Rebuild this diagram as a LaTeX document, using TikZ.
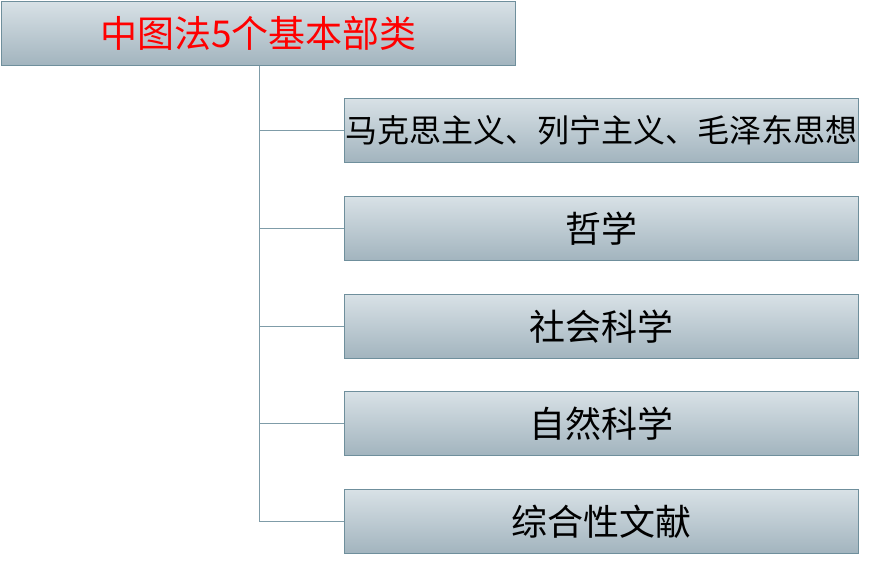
\documentclass[tikz,border=0pt]{standalone}
\usepackage{fontspec}
\newfontfamily\cjk{Noto Sans CJK SC}
\definecolor{boxtop}{HTML}{D8E1E6}
\definecolor{boxbot}{HTML}{A2B4BE}
\definecolor{boxline}{HTML}{6F8F9C}
\definecolor{conn}{HTML}{7F9CA8}
\tikzset{
  catbox/.style={draw=boxline, line width=0.9pt, top color=boxtop, bottom color=boxbot,
    minimum width=514pt, minimum height=64pt, inner sep=0pt, text=black,
    font=\cjk\fontsize{36}{40}\selectfont, anchor=north west},
  link/.style={draw=conn, line width=0.9pt}
}
\begin{document}
\begin{tikzpicture}[x=1pt,y=-1pt]
\useasboundingbox (0,0) rectangle (876,566);
\node[catbox, text=red, font=\cjk\fontsize{37}{40}\selectfont] (root) at (1,1) {中图法5个基本部类};
\node[catbox, font=\cjk\fontsize{32}{34}\selectfont] (c1) at (344,98) {马克思主义、列宁主义、毛泽东思想};
\node[catbox] (c2) at (344,196) {哲学};
\node[catbox] (c3) at (344,294) {社会科学};
\node[catbox] (c4) at (344,391) {自然科学};
\node[catbox] (c5) at (344,489) {综合性文献};
\coordinate (trunk) at (259,0);
\draw[link] (root.south -| trunk) |- (c5.west);
\foreach \n in {c1,c2,c3,c4}{
  \draw[link] (\n.west -| trunk) -- (\n.west);
}
\end{tikzpicture}
\end{document}
